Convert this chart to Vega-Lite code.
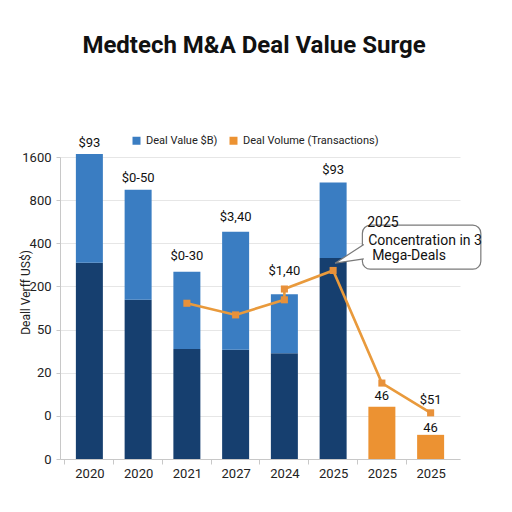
{
  "$schema": "https://vega.github.io/schema/vega-lite/v6.json",
  "autosize": "none",
  "width": 400,
  "height": 302,
  "padding": {"left": 60, "top": 157, "right": 52, "bottom": 53},
  "background": "white",
  "config": {
    "font": "Roboto",
    "view": {"stroke": null},
    "axis": {"labelFont": "Roboto", "titleFont": "Roboto", "labelColor": "#222", "domainColor": "#c8c8c8", "tickColor": "#c8c8c8", "gridColor": "#e6e6e6"}
  },
  "title": {"text": "Medtech M&A Deal Value Surge", "fontSize": 24, "fontWeight": "bold", "font": "Roboto", "color": "#111", "anchor": "middle", "dx": -6, "offset": 77},
  "datasets": {
    "bars": [
      {"pos": 1, "series": "Mega-deal share", "lo": 0, "hi": 4.55},
      {"pos": 1, "series": "Deal Value $B)", "lo": 4.55, "hi": 7.07},
      {"pos": 2, "series": "Mega-deal share", "lo": 0, "hi": 3.69},
      {"pos": 2, "series": "Deal Value $B)", "lo": 3.69, "hi": 6.24},
      {"pos": 3, "series": "Mega-deal share", "lo": 0, "hi": 2.55},
      {"pos": 3, "series": "Deal Value $B)", "lo": 2.55, "hi": 4.34},
      {"pos": 4, "series": "Mega-deal share", "lo": 0, "hi": 2.53},
      {"pos": 4, "series": "Deal Value $B)", "lo": 2.53, "hi": 5.27},
      {"pos": 5, "series": "Mega-deal share", "lo": 0, "hi": 2.45},
      {"pos": 5, "series": "Deal Value $B)", "lo": 2.45, "hi": 3.82},
      {"pos": 6, "series": "Mega-deal share", "lo": 0, "hi": 4.66},
      {"pos": 6, "series": "Deal Value $B)", "lo": 4.66, "hi": 6.41},
      {"pos": 7, "series": "Deal Volume (Transactions)", "lo": 0, "hi": 1.21},
      {"pos": 8, "series": "Deal Volume (Transactions)", "lo": 0, "hi": 0.56}
    ],
    "volume": [
      {"pos": 3, "v": 3.61, "k": 1},
      {"pos": 4, "v": 3.34, "k": 2},
      {"pos": 5, "v": 3.69, "k": 3},
      {"pos": 5, "v": 3.94, "k": 4},
      {"pos": 6, "v": 4.37, "k": 5},
      {"pos": 7, "v": 1.76, "k": 6},
      {"pos": 8, "v": 1.07, "k": 7}
    ],
    "labels": [
      {"pos": 1, "v": 7.33, "label": "$93"},
      {"pos": 2, "v": 6.51, "label": "$0-50"},
      {"pos": 3, "v": 4.71, "label": "$0-30"},
      {"pos": 4, "v": 5.6, "label": "$3,40"},
      {"pos": 5, "v": 4.36, "label": "$1,40"},
      {"pos": 6, "v": 6.7, "label": "$93"},
      {"pos": 7, "v": 1.47, "label": "46"},
      {"pos": 8, "v": 1.37, "label": "$51"},
      {"pos": 8, "v": 0.71, "label": "46"}
    ],
    "callout": [{"x1": 6.6, "x2": 9.03, "y1": 5.42, "y2": 4.4}],
    "pointer": [
      {"px": 6.63, "py": 4.97, "k": 1},
      {"px": 6.04, "py": 4.54, "k": 2},
      {"px": 6.63, "py": 4.64, "k": 3}
    ],
    "notes": [
      {"px": 6.7, "py": 5.47, "txt": "2025"},
      {"px": 6.72, "py": 5.05, "txt": "Concentration in 3"},
      {"px": 6.8, "py": 4.71, "txt": "Mega-Deals"}
    ]
  },
  "layer": [
    {
      "data": {"name": "bars"},
      "mark": {"type": "bar", "size": 27},
      "encoding": {
        "x": {
          "field": "pos", "type": "quantitative",
          "scale": {"domain": [0.5, 8.5], "nice": false, "zero": false},
          "axis": {
            "title": null,
            "values": [1, 2, 3, 4, 5, 6, 7, 8, 9],
            "labelExpr": "datum.value == 1 ? '2020' : datum.value == 2 ? '2020' : datum.value == 3 ? '2021' : datum.value == 4 ? '2027' : datum.value == 5 ? '2024' : datum.value <= 8 ? '2025' : ''",
            "tickOffset": -25,
            "labelOffset": 25,
            "tickSize": 5,
            "labelPadding": 3,
            "labelFontSize": 13,
            "labelOverlap": false,
            "labelFlush": false,
            "labelBound": false,
            "grid": false
          }
        },
        "y": {
          "field": "lo", "type": "quantitative",
          "scale": {"domain": [0, 7], "nice": false},
          "axis": {
            "title": "Deall Verff US$)",
            "titleFontSize": 12,
            "titleFontWeight": "normal",
            "titleColor": "#222",
            "titleX": -35,
            "titleY": 135,
            "titleAlign": "center",
            "titleBaseline": "middle",
            "values": [0, 1, 2, 3, 4, 5, 6, 7],
            "labelExpr": "['0','0','20','50','200','400','800','1600'][datum.value]",
            "labelFontSize": 13,
            "labelPadding": 5,
            "tickSize": 4,
            "grid": true
          }
        },
        "y2": {"field": "hi"},
        "color": {
          "field": "series", "type": "nominal",
          "scale": {"domain": ["Deal Value $B)", "Deal Volume (Transactions)", "Mega-deal share"], "range": ["#3a7dc2", "#ec9232", "#163f6f"]},
          "legend": {
            "title": null,
            "values": ["Deal Value $B)", "Deal Volume (Transactions)"],
            "orient": "none",
            "direction": "horizontal",
            "legendX": 71,
            "legendY": -22,
            "symbolType": "square",
            "symbolSize": 64,
            "symbolStrokeWidth": 0,
            "labelFontSize": 11,
            "labelFont": "Roboto",
            "labelColor": "#222",
            "columnPadding": 10,
            "labelOffset": 4
          }
        }
      }
    },
    {
      "data": {"name": "volume"},
      "mark": {"type": "line", "color": "#e99a3c", "strokeWidth": 2.6},
      "encoding": {
        "x": {"field": "pos", "type": "quantitative"},
        "y": {"field": "v", "type": "quantitative"},
        "order": {"field": "k"}
      }
    },
    {
      "data": {"name": "volume"},
      "mark": {"type": "point", "shape": "square", "filled": true, "size": 50, "color": "#e8913a", "opacity": 1},
      "encoding": {
        "x": {"field": "pos", "type": "quantitative"},
        "y": {"field": "v", "type": "quantitative"}
      }
    },
    {
      "data": {"name": "labels"},
      "mark": {"type": "text", "fontSize": 13, "color": "#111", "baseline": "middle"},
      "encoding": {
        "x": {"field": "pos", "type": "quantitative"},
        "y": {"field": "v", "type": "quantitative"},
        "text": {"field": "label"}
      }
    },
    {
      "data": {"name": "callout"},
      "mark": {"type": "rect", "fill": "white", "stroke": "#7a7a7a", "strokeWidth": 1.2, "cornerRadius": 8},
      "encoding": {
        "x": {"field": "x1", "type": "quantitative"},
        "x2": {"field": "x2"},
        "y": {"field": "y1", "type": "quantitative"},
        "y2": {"field": "y2"}
      }
    },
    {
      "data": {"name": "pointer"},
      "mark": {"type": "line", "stroke": "#7a7a7a", "fill": "white", "strokeWidth": 1.2},
      "encoding": {
        "x": {"field": "px", "type": "quantitative"},
        "y": {"field": "py", "type": "quantitative"},
        "order": {"field": "k"}
      }
    },
    {
      "data": {"name": "notes"},
      "mark": {"type": "text", "align": "left", "baseline": "middle", "fontSize": 14, "color": "#111"},
      "encoding": {
        "x": {"field": "px", "type": "quantitative"},
        "y": {"field": "py", "type": "quantitative"},
        "text": {"field": "txt"}
      }
    }
  ]
}
